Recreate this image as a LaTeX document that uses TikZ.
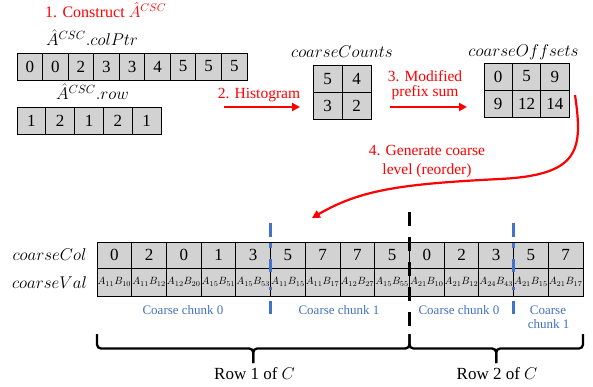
\RequirePackage{fix-cm}
\documentclass[tikz,border=0pt]{standalone}
\usepackage{fontspec}
\setmainfont{Liberation Serif}
\usetikzlibrary{arrows.meta}
\definecolor{cellgray}{RGB}{210,210,210}
\definecolor{stepred}{RGB}{255,0,0}
\definecolor{chunkblue}{RGB}{68,114,196}

\begin{document}
\begin{tikzpicture}[x=1pt,y=-1pt,
  cell/.style={draw=black, fill=cellgray, line width=0.9pt, inner sep=0pt,
    font=\fontsize{17}{19}\selectfont},
  valcell/.style={cell, font=\fontsize{10.5}{12}\selectfont},
  arrlabel/.style={anchor=base, inner sep=0pt, font=\fontsize{17}{19}\selectfont},
  steplabel/.style={anchor=base, inner sep=0pt, text=stepred, font=\fontsize{15.5}{18}\selectfont},
  chunklabel/.style={anchor=base, inner sep=0pt, text=chunkblue, font=\fontsize{13}{15}\selectfont},
  rowlabel/.style={anchor=base, inner sep=0pt, font=\fontsize{17}{19}\selectfont},
  steparrow/.style={draw=stepred, line width=2.2pt, -{Triangle[length=8pt,width=8pt]}},
  rowsplit/.style={draw=black, line width=3.5pt, dash pattern=on 14pt off 11pt},
  chunksplit/.style={draw=chunkblue, line width=2.8pt,
    dash pattern=on 14pt off 6pt on 5pt off 11pt on 13pt off 15pt on 3pt off 11pt on 13pt off 30pt},
  bracket/.style={draw=black, line width=2.3pt, rounded corners=4pt},
]
\useasboundingbox (0,0) rectangle (593,387);

% step 1: the CSC arrays
\node[steplabel, anchor=base west, font=\fontsize{16}{18}\selectfont] (step1) at (45,17.3) {1. Construct $\hat{A}^{CSC}$};
\node[arrlabel] (colptrlbl) at (92,46) {$\hat{A}^{CSC}.colPtr$};
\foreach \v [count=\i from 0] in {0,0,2,3,3,4,5,5,5}
  \node[cell, minimum width=25.56pt, minimum height=27pt] (cp\i) at ({17+25.56*(\i+0.5)},66.5) {\v};
\node[arrlabel] (rowlbl) at (92.5,100) {$\hat{A}^{CSC}.row$};
\foreach \v [count=\i from 0] in {1,2,1,2,1}
  \node[cell, minimum width=28.8pt, minimum height=27pt] (rw\i) at ({17+28.8*(\i+0.5)},120.5) {\v};

% step 2: histogram
\node[steplabel] (step2) at (259,99) {2. Histogram};
\coordinate (h2from) at (224,107);
\coordinate (h2to) at (300,107);
\draw[steparrow] (h2from) -- (h2to);

\node[arrlabel] (countslbl) at (342,58) {$coarseCounts$};
\node[cell, minimum width=29pt, minimum height=26.75pt] (cc00) at (327.5,78.9) {5};
\node[cell, minimum width=29pt, minimum height=26.75pt] (cc01) at (356.5,78.9) {4};
\node[cell, minimum width=29pt, minimum height=26.75pt] (cc10) at (327.5,105.6) {3};
\node[cell, minimum width=29pt, minimum height=26.75pt] (cc11) at (356.5,105.6) {2};

% step 3: modified prefix sum
\node[steplabel] (step3a) at (425,81.5) {3. Modified};
\node[steplabel] (step3b) at (425,97) {prefix sum};
\coordinate (p3from) at (390,107);
\coordinate (p3to) at (467,107);
\draw[steparrow] (p3from) -- (p3to);

\node[arrlabel] (offsetslbl) at (523.5,57) {$coarseOffsets$};
\foreach \v [count=\i from 0] in {0,5,9}
  \node[cell, minimum width=28.33pt, minimum height=27pt] (co0\i) at ({484+28.33*(\i+0.5)},76.5) {\v};
\foreach \v [count=\i from 0] in {9,12,14}
  \node[cell, minimum width=28.33pt, minimum height=27pt] (co1\i) at ({484+28.33*(\i+0.5)},103.5) {\v};

% step 4: reorder into the coarse level
\node[steplabel] (step4a) at (427,156) {4. Generate coarse};
\node[steplabel] (step4b) at (427,174.5) {level (reorder)};
\coordinate (g4from) at (575,95);
\coordinate (g4mid) at (500,179);
\coordinate (g4to) at (312,218);
\draw[steparrow] (g4from) .. controls (583,150) and (580,175) .. (g4mid)
  .. controls (400,184) and (360,190) .. (g4to);

% coarse level arrays
\node[arrlabel] (collbl) at (49.5,260) {$coarseCol$};
\node[arrlabel] (vallbl) at (49.5,288) {$coarseVal$};
\foreach \v [count=\i from 0] in {0,2,0,1,3,5,7,7,5,0,2,3,5,7}
  \node[cell, minimum width=34.714pt, minimum height=26pt] (col\i) at ({97+34.714*(\i+0.5)},255) {\v};
\foreach \a/\b [count=\i from 0] in {11/10,11/12,12/20,15/51,15/53,11/15,11/17,12/27,15/55,21/10,21/12,24/43,21/15,21/17}
  \node[valcell, minimum width=34.714pt, minimum height=28pt] (val\i) at ({97+34.714*(\i+0.5)},282) {$A_{\a}B_{\b}$};

% chunk and row separators
\coordinate (ck1top) at (270.57,223);
\coordinate (ck1bot) at (270.57,316);
\coordinate (ck2top) at (513.57,223);
\coordinate (ck2bot) at (513.57,316);
\draw[chunksplit] (ck1top) -- (ck1bot);
\draw[chunksplit] (ck2top) -- (ck2bot);
\coordinate (rstop) at (409.43,212);
\coordinate (rsbot) at (409.43,327);
\draw[rowsplit] (rstop) -- (rsbot);

\node[chunklabel] (ch10) at (183,314) {Coarse chunk 0};
\node[chunklabel] (ch11) at (339,314) {Coarse chunk 1};
\node[chunklabel] (ch20) at (459,314) {Coarse chunk 0};
\node[chunklabel] (ch21a) at (548,314) {Coarse};
\node[chunklabel] (ch21b) at (548.5,328) {chunk 1};

% row brackets
\draw[bracket] (97,334) -- (97,348.5) -- (253.2,348.5) -- (253.2,363);
\draw[bracket] (253.2,363) -- (253.2,348.5) -- (409.43,348.5) -- (409.43,334);
\draw[bracket] (409.43,334) -- (409.43,348.5) -- (496.2,348.5) -- (496.2,363);
\draw[bracket] (496.2,363) -- (496.2,348.5) -- (583,348.5) -- (583,334);

\node[rowlabel] (row1) at (254.5,379) {Row 1 of $C$};
\node[rowlabel] (row2) at (497,379) {Row 2 of $C$};
\end{tikzpicture}
\end{document}
